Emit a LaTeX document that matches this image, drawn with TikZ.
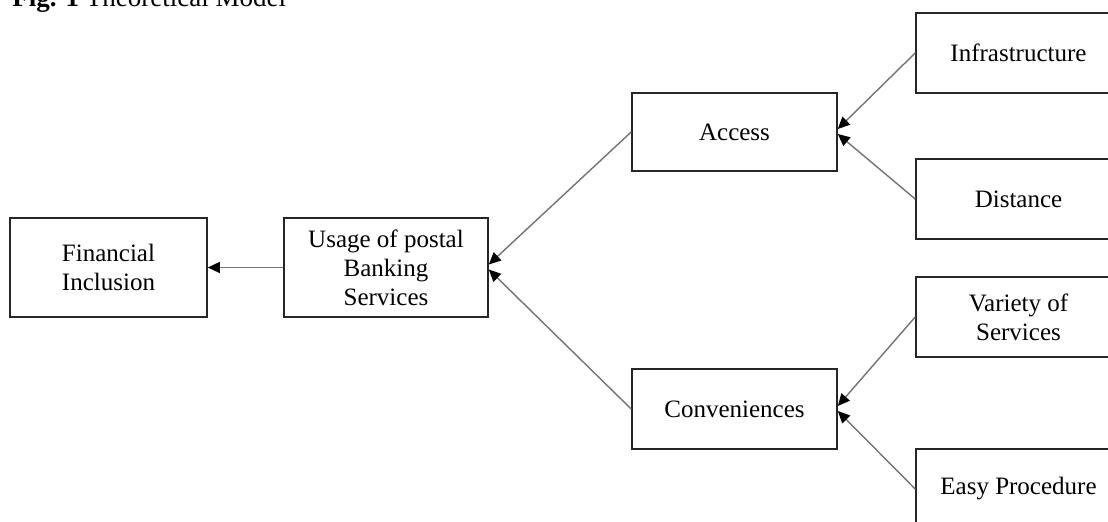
\documentclass[tikz,border=0pt]{standalone}
\usepackage{fontspec}
\setmainfont{Liberation Serif}
\usetikzlibrary{arrows.meta}
\tikzset{
  box/.style={draw=black!85, line width=0.8pt, align=center, inner sep=2pt,
    minimum width=102.5pt, minimum height=40pt,
    font=\fontsize{12.5}{14.5}\selectfont},
  link/.style={draw=black!55, line width=0.7pt,
    -{Triangle[length=6pt,width=5.5pt,color=black]}},
}
\begin{document}
\begin{tikzpicture}[x=0.5pt,y=-0.5pt]
\useasboundingbox (0,0) rectangle (1108,522);
\clip (0,0) rectangle (1108,522);
\fill[white] (0,0) rectangle (1108,522);
\node[anchor=base west, font=\fontsize{13.5}{16}\selectfont, inner sep=0pt] (title) at (12,7) {\textbf{Fig. 1} Theoretical Model};
\node[box, minimum width=98.5pt, minimum height=49.5pt] (fin) at (108.5,267.5) {Financial\\Inclusion};
\node[box, minimum width=102pt, minimum height=49.5pt] (usage) at (386,267.5) {Usage of postal\\Banking\\Services};
\node[box, minimum height=39pt] (access) at (734.5,132) {Access};
\node[box] (conv) at (734.5,409) {Conveniences};
\node[box] (infra) at (1018.5,53) {Infrastructure};
\node[box] (dist) at (1018.5,199) {Distance};
\node[box] (var) at (1018.5,317) {Variety of\\Services};
\node[box] (easy) at (1018.5,489) {Easy Procedure};
\draw[link] (usage.west) -- (fin.east);
\draw[link] (access.west) -- ([yshift=1.5pt]usage.east);
\draw[link] (conv.west) -- ([yshift=-1pt]usage.east);
\draw[link] (infra.west) -- ([yshift=1.5pt]access.east);
\draw[link] (dist.west) -- ([yshift=-1pt]access.east);
\draw[link] (var.west) -- ([yshift=1.5pt]conv.east);
\draw[link] (easy.west) -- ([yshift=-1pt]conv.east);
\end{tikzpicture}
\end{document}
